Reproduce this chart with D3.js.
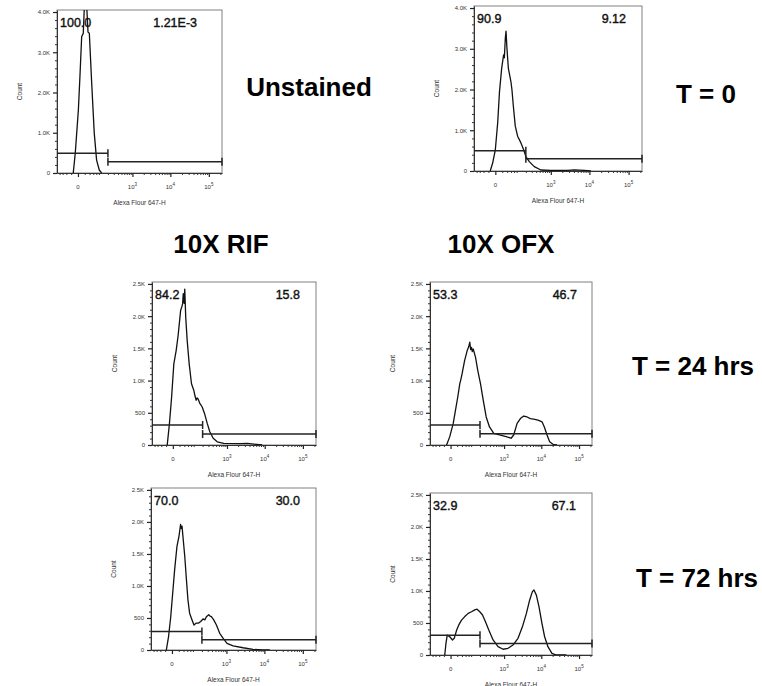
<!DOCTYPE html>
<html>
<head>
<meta charset="utf-8">
<script src="https://cdn.jsdelivr.net/npm/d3@7"></script>
<style>
body { margin: 0; background: #fff; }
svg { display: block; font-family: Arial, "Liberation Sans", sans-serif; }
</style>
</head>
<body>
<svg width="762" height="686"></svg>
<script>
// histogram curves: [Alexa Flour 647-H value, count]
var unstainedHist = [[-13,0],[-7,490],[1,1565],[5,2390],[10,3390],[15,3470],[19,4200],[27,4200],[33,3500],
  [39,3470],[51,2230],[66,990],[82,320],[103,75],[125,0]];
var t0Hist = [[-14,0],[-7,190],[0,520],[6,1190],[11,1940],[18,2520],[25,2850],[28,2780],[32,3270],[35,3430],
  [39,3020],[46,2520],[60,2190],[66,2000],[75,1600],[89,1100],[108,855],[140,690],[171,520],[201,355],[254,230],
  [354,107],[540,25],[1004,15],[2745,15],[4080,30],[7380,15],[10900,0]];
var rif24Hist = [[-16,0],[-9,335],[-3,745],[2.5,1260],[9,1470],[15,1700],[24,2090],[29,2150],[32,2190],[35,2350],
  [37,2280],[39,2200],[42,2420],[47,1980],[55,1620],[67,1260],[83,950],[101,850],[112,760],[123,695],[132,730],
  [140,720],[150,690],[163,645],[194,590],[229,490],[277,335],[330,205],[414,105],[537,50],[820,25],[2300,20],
  [3470,25],[5180,15],[8600,0]];
var ofx24Hist = [[-11,0],[-2,130],[7,335],[14,540],[22,745],[30,950],[35,1020],[41,1110],[54,1310],[70,1465],
  [80,1520],[89,1595],[96,1480],[103,1515],[110,1450],[119,1490],[143,1360],[170,1155],[208,950],[252,695],
  [310,435],[388,280],[516,180],[795,155],[1140,130],[1556,105],[1830,155],[2260,335],[2770,410],[3400,450],
  [4180,435],[5120,410],[6270,400],[8200,385],[10450,360],[12040,280],[14200,155],[16650,50],[21250,5],[26100,0]];
var rif72Hist = [[-16,0],[-9,210],[-3,520],[2.5,940],[7,1255],[14,1620],[21,1780],[27,1960],[30,1900],[33,1935],
  [37,1780],[46,1465],[55,1100],[64,785],[75,575],[93,470],[109,390],[132,420],[158,420],[183,445],[216,485],
  [245,470],[274,520],[320,550],[350,530],[383,520],[446,470],[531,390],[656,260],[808,185],[1036,105],[1505,65],
  [2770,35],[5070,10],[9260,0],[13850,0]];
var ofx72Hist = [[-17,0],[-13,180],[-9,310],[-2,285],[5,235],[10,260],[18,390],[26,470],[38,545],[55,600],
  [77,650],[103,675],[135,705],[161,715],[197,675],[240,625],[295,520],[370,390],[493,235],[680,130],[937,90],
  [1284,105],[1750,155],[2390,260],[3135,440],[4008,650],[4910,860],[5790,990],[6380,1015],[7390,935],[8670,755],
  [10400,495],[12250,285],[15000,130],[19150,25],[25000,0],[45960,0]];

var leftPercents = ["100.0", "90.9", "84.2", "53.3", "70.0", "32.9"];
var rightPercents = ["1.21E-3", "9.12", "15.8", "46.7", "30.0", "67.1"];
// gate heights (count) for [left gate, right gate]
var gateHeights = [[490, 280], [500, 300], [310, 170], [310, 175], [290, 160], [310, 180]];
var gateSplit = 200;

var yTicksTop = [0, 1000, 2000, 3000, 4000];
var yTicksLow = [0, 500, 1000, 1500, 2000, 2500];
var xTickLabels = [{v: 0, base: "0", exp: ""}, {v: 1e3, base: "10", exp: "3"},
  {v: 1e4, base: "10", exp: "4"}, {v: 1e5, base: "10", exp: "5"}];
var xMinor = [-80, -60, -40, -20, 20, 40, 60, 80, 100, 200, 300, 400, 500, 600, 700, 800, 900,
  2000, 3000, 4000, 5000, 6000, 7000, 8000, 9000, 20000, 30000, 40000, 50000, 60000, 70000, 80000, 90000, 200000];

var titles = [
  {text: "Unstained", x: 309, y: 96},
  {text: "T = 0", x: 706, y: 103},
  {text: "10X RIF", x: 221, y: 253},
  {text: "10X OFX", x: 501, y: 253},
  {text: "T = 24 hrs", x: 693, y: 375},
  {text: "T = 72 hrs", x: 697, y: 587}
];

var panels = [
  {hist: unstainedHist, left: 57, top: 10, right: 222, bottom: 173, yMax: 4050, yTicks: yTicksTop, minorStep: 200, rPad: 25},
  {hist: t0Hist, left: 474, top: 6, right: 642, bottom: 171, yMax: 4050, yTicks: yTicksTop, minorStep: 200, rPad: 16},
  {hist: rif24Hist, left: 152, top: 282, right: 316, bottom: 445, yMax: 2530, yTicks: yTicksLow, minorStep: 100, rPad: 16},
  {hist: ofx24Hist, left: 430, top: 282, right: 592, bottom: 445, yMax: 2530, yTicks: yTicksLow, minorStep: 100, rPad: 15},
  {hist: rif72Hist, left: 151, top: 488, right: 316, bottom: 650, yMax: 2530, yTicks: yTicksLow, minorStep: 100, rPad: 16},
  {hist: ofx72Hist, left: 430, top: 493, right: 592, bottom: 655, yMax: 2530, yTicks: yTicksLow, minorStep: 100, rPad: 16}
];

var svg = d3.select("svg");

var fmtY = function(d) {
  if (d === 0) return "0";
  return d >= 1000 ? (d / 1000).toFixed(1) + "K" : String(d);
};

panels.forEach(function(p, i) {
  var x = d3.scaleSymlog().constant(40).domain([-100, 220000]).range([p.left, p.right]);
  var y = d3.scaleLinear().domain([0, p.yMax]).range([p.bottom, p.top]);
  var g = svg.append("g");

  g.append("clipPath").attr("id", "clip" + i)
    .append("rect").attr("x", p.left).attr("y", p.top)
    .attr("width", p.right - p.left).attr("height", p.bottom - p.top);

  // frame
  g.append("rect")
    .attr("x", p.left).attr("y", p.top)
    .attr("width", p.right - p.left).attr("height", p.bottom - p.top)
    .attr("fill", "none").attr("stroke", "#808080").attr("stroke-width", 1);

  // y minor ticks
  var minors = d3.range(0, p.yMax, p.minorStep).filter(function(v) { return p.yTicks.indexOf(v) < 0; });
  g.append("g").attr("transform", "translate(" + p.left + ",0)")
    .call(d3.axisLeft(y).tickValues(minors).tickSize(2).tickSizeOuter(0).tickFormat(""))
    .call(function(a) { a.select(".domain").remove(); a.selectAll("line").attr("stroke", "#333"); });

  // y major ticks
  g.append("g").attr("transform", "translate(" + p.left + ",0)")
    .call(d3.axisLeft(y).tickValues(p.yTicks).tickSize(4).tickSizeOuter(0).tickPadding(3).tickFormat(fmtY))
    .call(function(a) {
      a.select(".domain").attr("stroke", "#333");
      a.selectAll("line").attr("stroke", "#222").attr("stroke-width", 1.2);
      a.selectAll("text").attr("font-size", 6).attr("fill", "#333").attr("font-family", "Arial, 'Liberation Sans', sans-serif");
    });

  // x minor ticks
  g.append("g").attr("transform", "translate(0," + p.bottom + ")")
    .call(d3.axisBottom(x).tickValues(xMinor).tickSize(2).tickSizeOuter(0).tickFormat(""))
    .call(function(a) { a.select(".domain").remove(); a.selectAll("line").attr("stroke", "#333"); });

  // x major ticks
  g.append("g").attr("transform", "translate(0," + p.bottom + ")")
    .call(d3.axisBottom(x).tickValues(xTickLabels.map(function(t) { return t.v; })).tickSize(4).tickSizeOuter(0).tickFormat(""))
    .call(function(a) {
      a.select(".domain").attr("stroke", "#333").attr("stroke-width", 1.2);
      a.selectAll("line").attr("stroke", "#222").attr("stroke-width", 1.2);
    });

  xTickLabels.forEach(function(t) {
    var tx = g.append("text")
      .attr("x", x(t.v)).attr("y", p.bottom + 16)
      .attr("text-anchor", "middle")
      .attr("font-size", 6).attr("fill", "#333")
      .text(t.base);
    if (t.exp) {
      tx.append("tspan").attr("dy", -3).attr("font-size", 4.5).text(t.exp);
    }
  });

  // axis labels
  g.append("text")
    .attr("x", (p.left + p.right) / 2).attr("y", p.bottom + 31.5)
    .attr("text-anchor", "middle").attr("font-size", 6.5).attr("fill", "#333")
    .text("Alexa Flour 647-H");
  g.append("text")
    .attr("transform", "translate(" + (p.left - 35) + "," + ((p.top + p.bottom) / 2) + ")rotate(-90)")
    .attr("text-anchor", "middle").attr("font-size", 6.5).attr("fill", "#333")
    .text("Count");

  // histogram
  var line = d3.line()
    .x(function(d) { return x(d[0]); })
    .y(function(d) { return y(d[1]); });
  g.append("path")
    .datum(p.hist)
    .attr("clip-path", "url(#clip" + i + ")")
    .attr("d", line)
    .attr("fill", "none").attr("stroke", "#111").attr("stroke-width", 1.3)
    .attr("stroke-linejoin", "round");

  // gates
  var gl = gateHeights[i];
  var xMin = x.domain()[0], xMax = x.domain()[1];
  var gates = [
    {x0: xMin, x1: gateSplit, h: gl[0], caps: [gateSplit]},
    {x0: gateSplit, x1: xMax, h: gl[1], caps: [gateSplit, xMax]}
  ];
  gates.forEach(function(gt) {
    g.append("line")
      .attr("x1", x(gt.x0)).attr("x2", x(gt.x1))
      .attr("y1", y(gt.h)).attr("y2", y(gt.h))
      .attr("stroke", "#222").attr("stroke-width", 1.5);
    gt.caps.forEach(function(c) {
      g.append("line")
        .attr("x1", x(c)).attr("x2", x(c))
        .attr("y1", y(gt.h) - 4).attr("y2", y(gt.h) + 4)
        .attr("stroke", "#222").attr("stroke-width", 1.5);
    });
  });

  // percentages
  g.append("text")
    .attr("x", p.left + 3).attr("y", p.top + 17)
    .attr("font-size", 12.5).attr("fill", "#111")
    .attr("stroke", "#111").attr("stroke-width", 0.4)
    .text(leftPercents[i]);
  g.append("text")
    .attr("x", p.right - p.rPad).attr("y", p.top + 17)
    .attr("text-anchor", "end")
    .attr("font-size", 12.5).attr("fill", "#111")
    .attr("stroke", "#111").attr("stroke-width", 0.4)
    .text(rightPercents[i]);
});

svg.selectAll(".title")
  .data(titles)
  .enter().append("text")
  .attr("class", "title")
  .attr("x", function(d) { return d.x; })
  .attr("y", function(d) { return d.y; })
  .attr("text-anchor", "middle")
  .attr("font-size", 26).attr("font-weight", "bold").attr("fill", "#000")
  .text(function(d) { return d.text; });
</script>
</body>
</html>
